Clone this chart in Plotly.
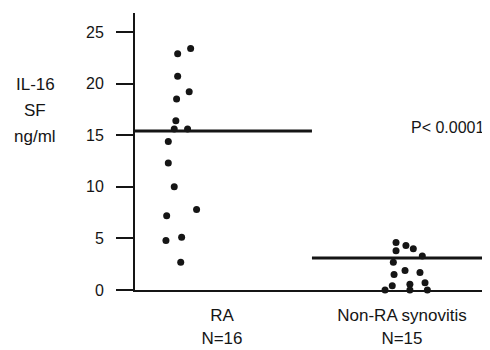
import plotly.graph_objects as go

# ---- data ----
categories = ["RA", "Non-RA synovitis"]
cat_labels = ["RA<br>N=16", "Non-RA synovitis<br>N=15"]
cat_pos = [1, 2]

ra_values = [23.4, 22.9, 20.7, 19.2, 18.5, 16.4, 15.6, 15.6, 14.4, 12.3, 10.0, 7.8, 7.2, 4.8, 5.1, 2.7]
ra_jitter = [-0.174, -0.246, -0.246, -0.182, -0.252, -0.256, -0.265, -0.191, -0.298, -0.298,
             -0.265, -0.141, -0.307, -0.311, -0.224, -0.229]

nonra_values = [4.6, 3.8, 4.3, 4.0, 3.3, 2.7, 1.9, 1.5, 1.7, 0.4, 0.55, 0.7, 0.0, 0.0, 0.0]
nonra_jitter = [-0.033, -0.033, 0.022, 0.063, 0.113, -0.048, 0.017, -0.044, 0.100, -0.054,
                0.044, 0.128, -0.094, 0.044, 0.141]

group_lines = [15.4, 3.1]          # horizontal bars drawn per group
group_half_width = 0.5

y_ticks = [0, 5, 10, 15, 20, 25]
y_title_lines = ["IL-16", "SF", "ng/ml"]
p_text = "P< 0.0001"

FONT = "Liberation Sans, Arial, sans-serif"
INK = "#151515"

# page body has an 8px margin; plot area sits at x 135..490, y 13..290 on the page
W, H = 482, 342
ML, MT, PW, PH = 127, 5, 355, 277

fig = go.Figure()

fig.add_trace(go.Scatter(
    x=[cat_pos[0] + j for j in ra_jitter], y=ra_values, mode="markers",
    marker=dict(size=7, color=INK), showlegend=False, cliponaxis=False))
fig.add_trace(go.Scatter(
    x=[cat_pos[1] + j for j in nonra_jitter], y=nonra_values, mode="markers",
    marker=dict(size=7, color=INK), showlegend=False, cliponaxis=False))

for pos, val in zip(cat_pos, group_lines):
    fig.add_trace(go.Scatter(
        x=[pos - group_half_width, pos + group_half_width], y=[val, val], mode="lines",
        line=dict(color=INK, width=3), showlegend=False))

fig.add_annotation(x=1.0, y=15.7, xref="paper", yref="y", text=p_text, showarrow=False,
                   xanchor="right", yanchor="middle", xshift=-3,
                   font=dict(family=FONT, size=16, color=INK))

for txt, yy in zip(y_title_lines, [85, 111, 137]):
    fig.add_annotation(x=(35 - 135) / PW, y=1 - (yy - 13) / PH, xref="paper", yref="paper",
                       text=txt, showarrow=False, xanchor="center", yanchor="middle",
                       font=dict(family=FONT, size=17, color=INK))

fig.update_layout(
    width=W, height=H,
    margin=dict(l=ML, r=0, t=MT, b=H - MT - PH, autoexpand=False),
    paper_bgcolor="white", plot_bgcolor="white",
    font=dict(family=FONT, size=16, color=INK),
    xaxis=dict(range=[0.517, 2.489], tickvals=cat_pos, ticktext=cat_labels,
               showgrid=False, zeroline=False, showline=True, linecolor=INK, linewidth=2,
               ticks="", ticklabelstandoff=9, tickfont=dict(size=17)),
    yaxis=dict(range=[0, 26.84], tickvals=y_ticks, showgrid=False, zeroline=False,
               showline=True, linecolor=INK, linewidth=2, ticks="outside", ticklen=17,
               tickwidth=1.5, tickcolor=INK, ticklabelstandoff=9, tickfont=dict(size=16)),
)

fig.write_html("out.html")
